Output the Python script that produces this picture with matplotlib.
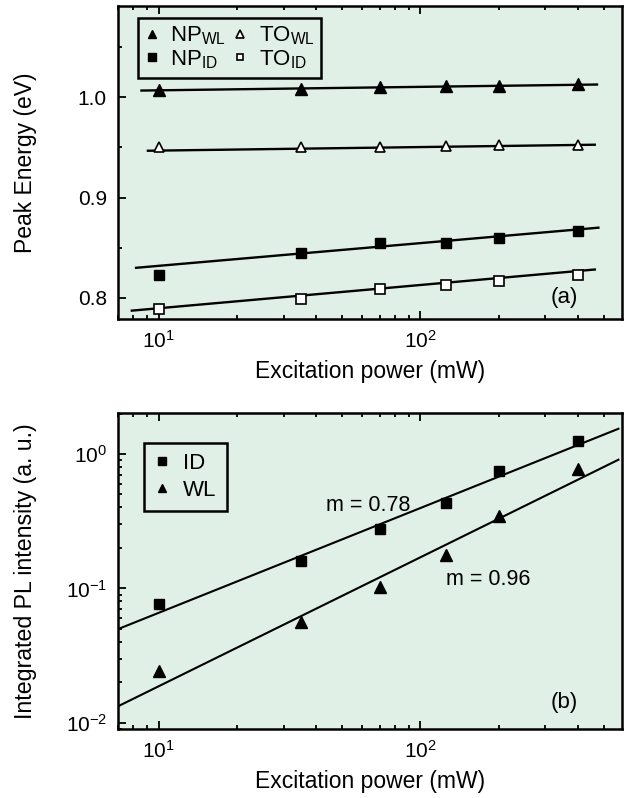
import matplotlib

matplotlib.use("Agg")
import matplotlib.pyplot as plt
import numpy as np

plt.rcParams["font.family"] = ["Liberation Sans", "DejaVu Sans"]
plt.rcParams["mathtext.fontset"] = "custom"
plt.rcParams["mathtext.rm"] = "Liberation Sans"
plt.rcParams["mathtext.it"] = "Liberation Sans:italic"
plt.rcParams["mathtext.bf"] = "Liberation Sans:bold"

# potencia de excitacao (mW)
potencia = [10, 35, 70, 125, 200, 400]

# (a) energia de pico (eV)
np_wl = [1.007, 1.008, 1.010, 1.011, 1.011, 1.013]
to_wl = [0.950, 0.950, 0.950, 0.951, 0.952, 0.952]
np_id = [0.823, 0.845, 0.855, 0.855, 0.860, 0.867]
to_id = [0.789, 0.799, 0.809, 0.813, 0.817, 0.823]

# retas de ajuste: extremos em x e em y
ajuste_x_np_wl = [8.6, 472]
ajuste_y_np_wl = [1.0067, 1.0127]
ajuste_x_to_wl = [9.1, 463]
ajuste_y_to_wl = [0.9467, 0.9527]
ajuste_x_np_id = [8.2, 478]
ajuste_y_np_id = [0.830, 0.870]
ajuste_x_to_id = [7.9, 463]
ajuste_y_to_id = [0.7873, 0.8283]

# (b) intensidade integrada (u. a.)
int_id = [0.077, 0.161, 0.277, 0.430, 0.752, 1.256]
int_wl = [0.0242, 0.056, 0.102, 0.176, 0.348, 0.774]

# leis de potencia: inclinacao e valor em 10 mW
m_id = 0.78
m_wl = 0.96
amp_id = 0.0658
amp_wl = 0.0187
faixa_ajuste_b = [7.0, 570]

COR_FUNDO = "#e0f0e6"
TAM_XLABEL = 16.5
TAM_TICK = 15
TAM_TEXTO = 15.5


def _estilo_eixo(ax):
    ax.set_facecolor(COR_FUNDO)
    for lado in ax.spines.values():
        lado.set_linewidth(1.8)
    ax.tick_params(which="both", direction="in", top=True, right=False,
                   labelsize=TAM_TICK, width=1.3, pad=8)
    ax.tick_params(which="major", length=6)
    ax.tick_params(which="minor", length=3)


def _legenda(ax, **kw):
    leg = ax.legend(loc="upper left", fontsize=16, frameon=True, fancybox=False,
                    facecolor=COR_FUNDO, edgecolor="black", framealpha=1,
                    markerscale=0.75, **kw)
    leg.get_frame().set_linewidth(1.8)
    return leg


fig = plt.figure(figsize=(6.28, 7.98), dpi=100)
ax_a = fig.add_axes([0.188, 0.6003, 0.803, 0.3922])
ax_b = fig.add_axes([0.188, 0.0865, 0.803, 0.396])

# ----- painel (a)
_estilo_eixo(ax_a)
ax_a.set_xscale("log")
ax_a.set_xlim(7.0, 590)
ax_a.set_ylim(0.779, 1.091)
ax_a.set_yticks([0.8, 0.9, 1.0])
ax_a.set_yticks([0.85, 0.95, 1.05], minor=True)
ax_a.yaxis.set_major_formatter(matplotlib.ticker.FormatStrFormatter("%.1f"))

for xs, ys in [(ajuste_x_np_wl, ajuste_y_np_wl), (ajuste_x_to_wl, ajuste_y_to_wl),
               (ajuste_x_np_id, ajuste_y_np_id), (ajuste_x_to_id, ajuste_y_to_id)]:
    ax_a.plot(xs, ys, color="black", lw=1.7, zorder=2)

ax_a.plot(potencia, np_wl, "^", ms=8, color="black", label=r"NP$_{\mathrm{WL}}$", zorder=3)
ax_a.plot(potencia, np_id, "s", ms=7, color="black", label=r"NP$_{\mathrm{ID}}$", zorder=3)
ax_a.plot(potencia, to_wl, "^", ms=7.5, mfc="white", mec="black", mew=1.2,
          label=r"TO$_{\mathrm{WL}}$", zorder=3)
ax_a.plot(potencia, to_id, "s", ms=6.5, mfc="white", mec="black", mew=1.2,
          label=r"TO$_{\mathrm{ID}}$", zorder=3)

_legenda(ax_a, ncol=2, bbox_to_anchor=(0.04, 0.962), handlelength=0.6,
         handletextpad=0.55, columnspacing=0.3, labelspacing=0.05, borderpad=0.3,
         borderaxespad=0.0)
ax_a.text(0.885, 0.07, "(a)", transform=ax_a.transAxes, fontsize=TAM_TEXTO + 0.5,
          ha="center", va="center")
ax_a.set_xlabel("Excitation power (mW)", fontsize=TAM_XLABEL, labelpad=6)
ax_a.set_ylabel("Peak Energy (eV)", fontsize=16.5)
ax_a.yaxis.set_label_coords(-0.16, 0.5)

# ----- painel (b)
_estilo_eixo(ax_b)
ax_b.set_xscale("log")
ax_b.set_yscale("log")
ax_b.set_xlim(7.0, 590)
ax_b.set_ylim(0.009, 2.02)

x_reta = np.geomspace(faixa_ajuste_b[0], faixa_ajuste_b[1], 50)
ax_b.plot(x_reta, amp_id * (x_reta / 10) ** m_id, color="black", lw=1.5, zorder=2)
ax_b.plot(x_reta, amp_wl * (x_reta / 10) ** m_wl, color="black", lw=1.5, zorder=2)

ax_b.plot(potencia, int_id, "s", ms=7, color="black", label="ID", zorder=3)
ax_b.plot(potencia, int_wl, "^", ms=8, color="black", label="WL", zorder=3)

_legenda(ax_b, bbox_to_anchor=(0.052, 0.905), handlelength=0.7, handletextpad=0.6,
         labelspacing=0.25, borderpad=0.45, borderaxespad=0.0)

ax_b.text(0.496, 0.706, f"m = {m_id:.2f}", transform=ax_b.transAxes,
          fontsize=TAM_TEXTO, ha="center", va="center")
ax_b.text(0.734, 0.472, f"m = {m_wl:.2f}", transform=ax_b.transAxes,
          fontsize=TAM_TEXTO, ha="center", va="center")
ax_b.text(0.885, 0.085, "(b)", transform=ax_b.transAxes, fontsize=TAM_TEXTO + 0.5,
          ha="center", va="center")
ax_b.set_xlabel("Excitation power (mW)", fontsize=TAM_XLABEL, labelpad=6)
ax_b.set_ylabel("Integrated PL intensity (a. u.)", fontsize=16.7)
ax_b.yaxis.set_label_coords(-0.16, 0.5)

fig.savefig("out.png", dpi=100, facecolor="white")
plt.close(fig)
